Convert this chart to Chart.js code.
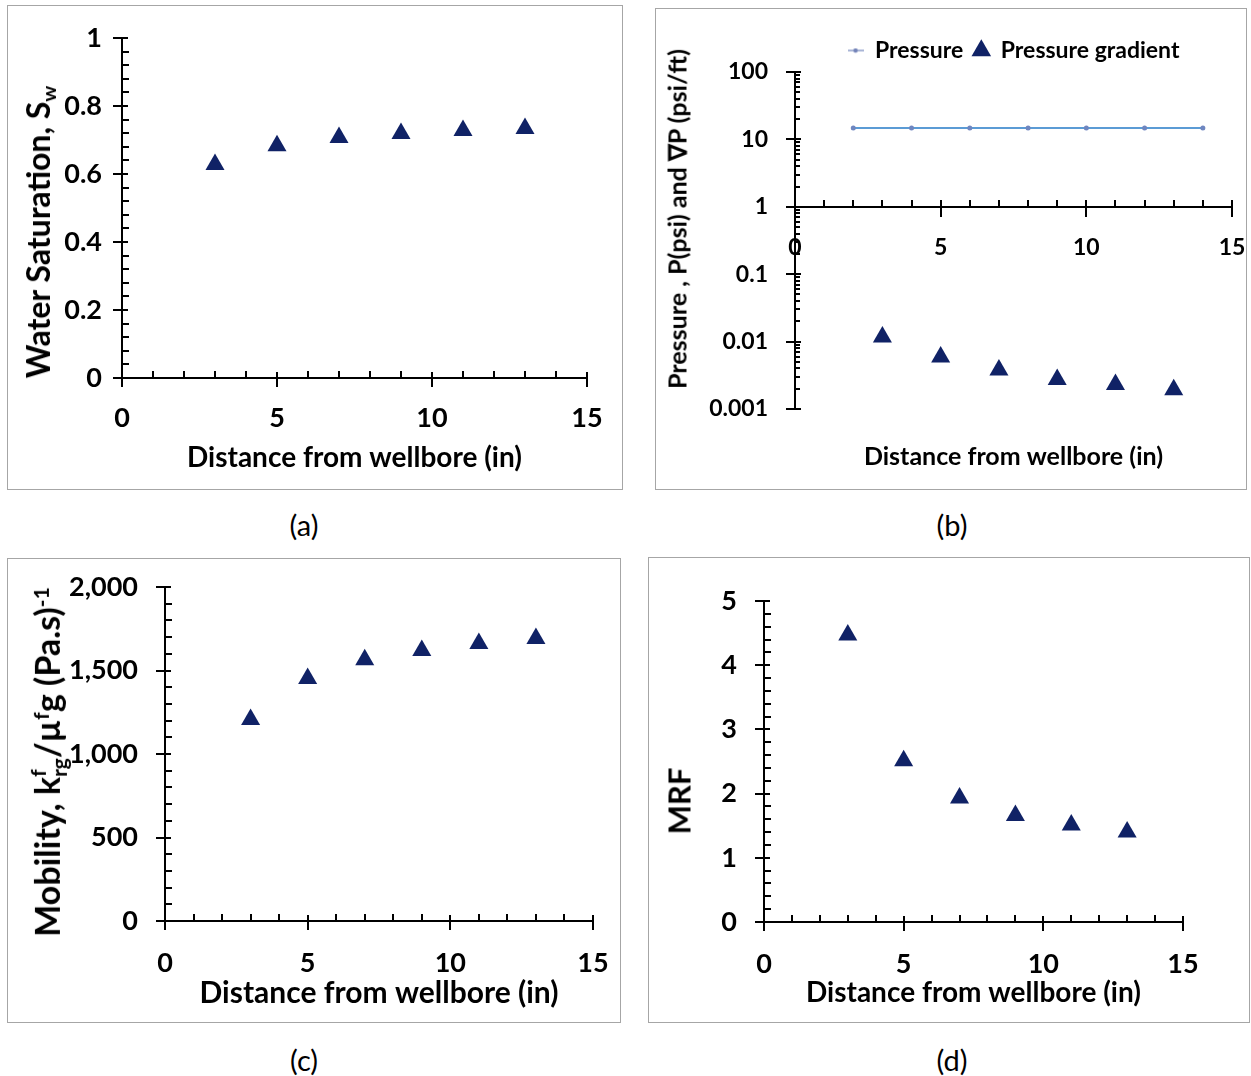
<!DOCTYPE html>
<html><head><meta charset="utf-8">
<script src="https://cdn.jsdelivr.net/npm/chart.js@4.4.1/dist/chart.umd.min.js"></script>
<style>
html,body{margin:0;padding:0;background:#fff;}
body{width:1251px;height:1076px;position:relative;overflow:hidden;font-family:Lato,sans-serif;color:#000;}
.panel{position:absolute;box-sizing:border-box;border:1px solid #a6a6a6;}
canvas{position:absolute;}
.cap{position:absolute;font-size:29px;font-family:Lato,sans-serif;transform:translate(-50%,-50%);white-space:nowrap;}
.ytitle{position:absolute;white-space:nowrap;font-weight:bold;line-height:1;transform:translate(-50%,-50%) rotate(-90deg);font-family:Lato,sans-serif;}
.ytitle sub,.ytitle sup{font-size:0.62em;line-height:0;}
.ytitle sub{vertical-align:-0.3em;}
.ytitle sup{vertical-align:0.55em;}
.ss{display:inline-block;vertical-align:-0.32em;font-size:0.62em;line-height:1;text-align:left;}
.ss span{display:block;}
</style></head><body>

<div class="panel" style="left:7px;top:5px;width:616px;height:485px"></div>
<div class="panel" style="left:655px;top:8px;width:592px;height:482px"></div>
<div class="panel" style="left:7px;top:558px;width:614px;height:465px"></div>
<div class="panel" style="left:648px;top:557px;width:602px;height:466px"></div>

<canvas id="cA"></canvas>
<canvas id="cB"></canvas>
<canvas id="cC"></canvas>
<canvas id="cD"></canvas>

<div class="ytitle" style="left:38px;top:232px;font-size:32px">Water Saturation, S<sub>w</sub></div>
<div class="ytitle" style="left:677px;top:219px;font-size:25px">Pressure , P(psi) and ∇P (psi/ft)</div>
<div class="ytitle" style="left:48px;top:762px;font-size:34px">Mobility, k<span class="ss"><span>f</span><span>rg</span></span>/µ<sup>f</sup>g (Pa.s)<sup>-1</sup></div>
<div class="ytitle" style="left:679px;top:801px;font-size:31px">MRF</div>

<div class="cap" style="left:304px;top:524px">(a)</div>
<div class="cap" style="left:952px;top:524px">(b)</div>
<div class="cap" style="left:304px;top:1059px">(c)</div>
<div class="cap" style="left:952px;top:1059px">(d)</div>

<script>
// ---------------- data ----------------
const distance = [3, 5, 7, 9, 11, 13];
const waterSaturation = [0.628, 0.683, 0.707, 0.719, 0.728, 0.734];
const pressureDistance = [2, 4, 6, 8, 10, 12, 14];
const pressure = [14.7, 14.7, 14.7, 14.7, 14.7, 14.7, 14.7];
const pressureGradient = [0.0117, 0.0059, 0.0038, 0.00275, 0.0023, 0.00193];
const mobility = [1207, 1452, 1565, 1620, 1662, 1692];
const mrf = [4.47, 2.51, 1.93, 1.66, 1.51, 1.40];

const xTicks = [0, 5, 10, 15];
const swTicks = [0, 0.2, 0.4, 0.6, 0.8, 1];
const pTicks = [0.001, 0.01, 0.1, 1, 10, 100];
const pTickLabels = ['0.001', '0.01', '0.1', '1', '10', '100'];
const mobTicks = [0, 500, 1000, 1500, 2000];
const mobTickLabels = ['0', '500', '1,000', '1,500', '2,000'];
const mrfTicks = [0, 1, 2, 3, 4, 5];

const xTitle = 'Distance from wellbore (in)';
const seriesLabels = ['Pressure', 'Pressure gradient'];

// ---------------- styling ----------------
const NAVY = '#102266';
const FONT = 'Lato, sans-serif';
Chart.defaults.font.family = FONT;
Chart.defaults.color = '#000';

const pts = (xs, ys) => xs.map((x, i) => ({x, y: ys[i]}));

const excelTicks = {
  id: 'excelTicks',
  afterDraw(chart, _a, opts) {
    const {ctx, chartArea: ca} = chart;
    const L = opts.len || {majOut: 9, majIn: 6, minIn: 7};
    ctx.save();
    ctx.strokeStyle = '#000';
    ctx.lineWidth = 2;
    ctx.beginPath();
    for (const id of ['x', 'y']) {
      const s = chart.scales[id];
      const o = opts[id];
      if (!s || !o) continue;
      const horiz = s.isHorizontal();
      const base = horiz ? (o.at !== undefined ? Math.round(chart.scales.y.getPixelForValue(o.at)) : Math.round(ca.bottom)) : Math.round(ca.left);
      const majors = s.ticks.map(t => t.value);
      const minors = [];
      if (o.log) {
        const e0 = Math.round(Math.log10(s.min)), e1 = Math.round(Math.log10(s.max));
        for (let e = e0; e < e1; e++) for (let k = 2; k <= 9; k++) minors.push(k * Math.pow(10, e));
      } else {
        const n = Math.round((s.max - s.min) / o.minor);
        for (let i = 0; i <= n; i++) minors.push(s.min + i * o.minor);
      }
      const isMajor = v => majors.some(m => Math.abs(m - v) < 1e-6 * Math.max(Math.abs(m), 1e-3));
      const seg = (p, a, b) => {
        p = Math.round(p);
        if (horiz) { ctx.moveTo(p, base + a); ctx.lineTo(p, base - b); }
        else { ctx.moveTo(base - a, p); ctx.lineTo(base + b, p); }
      };
      const mo = o.majOut ?? L.majOut, mi = o.majIn ?? L.majIn, ni = o.minIn ?? L.minIn;
      majors.forEach(v => seg(s.getPixelForValue(v), mo, mi));
      minors.forEach(v => { if (!isMajor(v)) seg(s.getPixelForValue(v), 0, ni); });
    }
    ctx.stroke();
    ctx.restore();
  }
};

function build(id, box, area, cfg) {
  const cv = document.getElementById(id);
  cv.style.left = box.l + 'px'; cv.style.top = box.t + 'px';
  cv.width = box.r - box.l; cv.height = box.b - box.t;
  const xObj = cfg.xAt !== undefined;
  const xs = {
    type: 'linear', min: 0, max: 15,
    position: xObj ? {y: cfg.xAt} : 'bottom',
    afterBuildTicks: s => { s.ticks = xTicks.map(v => ({value: v})); },
    afterFit: s => { s.height = cfg.xHeight ?? (box.b - area.b); s.paddingLeft = 0; s.paddingRight = 0; },
    grid: {display: true, drawOnChartArea: false, drawTicks: false},
    border: {display: true, color: '#000', width: 2},
    ticks: {padding: cfg.xPad, font: {size: cfg.tickSize, weight: 'bold'}, color: '#000', maxRotation: 0, autoSkip: false},
    title: {display: true, text: xTitle, color: '#000', font: {size: cfg.xTitleSize, weight: 'bold'}, padding: {top: 0, bottom: cfg.xTitlePad}}
  };
  const ys = Object.assign({
    position: 'left',
    afterBuildTicks: s => { s.ticks = cfg.yTicks.map(v => ({value: v})); },
    afterFit: s => { s.width = area.l - box.l; s.paddingTop = 0; s.paddingBottom = 0; },
    grid: {display: true, drawOnChartArea: false, drawTicks: false},
    border: {display: true, color: '#000', width: 2},
    ticks: {padding: cfg.yPad, font: {size: cfg.ytickSize ?? cfg.tickSize, weight: 'bold'}, color: '#000', autoSkip: false,
      callback: (v) => cfg.yLabels ? cfg.yLabels[cfg.yTicks.findIndex(t => Math.abs(t - v) < 1e-9 * Math.max(1, Math.abs(t)) + 1e-12)] : String(v)},
    title: {display: false}
  }, cfg.y);
  return new Chart(cv, {
    type: 'scatter',
    data: {datasets: cfg.datasets},
    options: {
      responsive: false, animation: false, devicePixelRatio: 1,
      layout: {padding: {left: 0, top: cfg.padTop ?? (area.t - box.t), right: box.r - area.r, bottom: cfg.padBottom ?? 0}},
      plugins: Object.assign({legend: {display: false}, tooltip: {enabled: false}, excelTicks: cfg.ticks}, cfg.plugins || {}),
      scales: {x: xs, y: ys}
    },
    plugins: [excelTicks]
  });
}

const tri = (label, data) => ({
  label, data, showLine: false, pointStyle: 'triangle', pointRadius: 11, pointHoverRadius: 11,
  backgroundColor: NAVY, borderColor: NAVY, borderWidth: 0
});

// (a)
build('cA', {l: 7, t: 5, r: 623, b: 490}, {l: 122, t: 38, r: 587, b: 378}, {
  datasets: [tri('Water Saturation', pts(distance, waterSaturation))],
  y: {type: 'linear', min: 0, max: 1},
  yTicks: swTicks, tickSize: 27, xPad: 24, yPad: 20, xTitleSize: 28, xTitlePad: 15,
  ticks: {x: {minor: 1}, y: {minor: 0.04}}
});

// (b) legend icon for the pressure line
const lineIcon = document.createElement('canvas');
lineIcon.width = 16; lineIcon.height = 6;
(() => { const c = lineIcon.getContext('2d');
  c.strokeStyle = '#8d9cc9'; c.lineWidth = 1.5; c.beginPath(); c.moveTo(0, 3); c.lineTo(16, 3); c.stroke();
  c.fillStyle = '#7383b8'; c.beginPath(); c.arc(8, 3, 2.2, 0, Math.PI * 2); c.fill(); })();

build('cB', {l: 655, t: 8, r: 1247, b: 490}, {l: 795, t: 72, r: 1232, b: 409}, {
  datasets: [
    {label: seriesLabels[0], data: pts(pressureDistance, pressure), showLine: true, borderColor: '#5b9bd5', borderWidth: 2,
     pointStyle: 'circle', pointRadius: 2.5, pointBackgroundColor: '#6f86c0', pointBorderWidth: 0, legendIcon: lineIcon},
    Object.assign(tri(seriesLabels[1], pts(distance, pressureGradient)), {legendIcon: 'triangle'})
  ],
  y: {type: 'logarithmic', min: 0.001, max: 100},
  yTicks: pTicks, yLabels: pTickLabels, tickSize: 23, xPad: 27, yPad: 27, xTitleSize: 25, xTitlePad: 4,
  xAt: 1, xHeight: 269, padTop: 21, padBottom: 81,
  ticks: {x: {minor: 1, at: 1, majOut: 10, majIn: 7}, y: {log: true, minIn: 5}},
  plugins: {legend: {display: true, position: 'top', fullSize: false, align: 'center',
    labels: {usePointStyle: true, boxWidth: 16, boxHeight: 16, padding: 10, color: '#000', font: {size: 23, weight: 'bold'},
      generateLabels: (chart) => chart.data.datasets.map((ds, i) => ({
        text: ds.label, datasetIndex: i, fillStyle: ds.backgroundColor || NAVY, strokeStyle: ds.backgroundColor || NAVY,
        lineWidth: 0, pointStyle: ds.legendIcon, hidden: false, fontColor: '#000'}))}}}
});

// (c)
build('cC', {l: 7, t: 558, r: 621, b: 1023}, {l: 165, t: 587, r: 593, b: 921}, {
  datasets: [tri('Mobility', pts(distance, mobility))],
  y: {type: 'linear', min: 0, max: 2000},
  yTicks: mobTicks, yLabels: mobTickLabels, tickSize: 27, xPad: 26, yPad: 27, xTitleSize: 30, xTitlePad: 12,
  ticks: {x: {minor: 1}, y: {minor: 100}}
});

// (d)
build('cD', {l: 648, t: 557, r: 1250, b: 1023}, {l: 764, t: 601, r: 1183, b: 922}, {
  datasets: [tri('MRF', pts(distance, mrf))],
  y: {type: 'linear', min: 0, max: 5},
  yTicks: mrfTicks, tickSize: 27, xPad: 26, yPad: 27, xTitleSize: 28, xTitlePad: 13,
  ticks: {x: {minor: 1}, y: {minor: 0.2}}
});
</script>
</body></html>
